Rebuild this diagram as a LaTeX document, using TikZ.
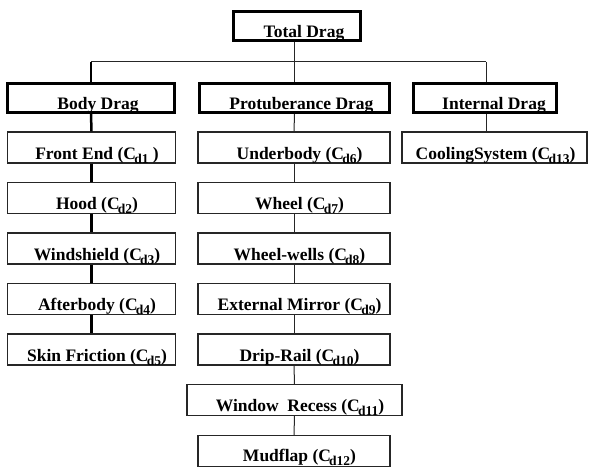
\documentclass[tikz,border=0pt]{standalone}
\usepackage{fontspec}
\setmainfont{Liberation Serif}
\newcommand\Cdsub[1]{C\kern-1.8pt\raisebox{-4pt}{\fontsize{13.5}{13}\selectfont #1}}
\begin{document}
\begin{tikzpicture}[x=1pt,y=-1pt,
  font=\fontsize{17.5}{20}\selectfont\bfseries,
  heavybox/.style={draw, line width=3pt, minimum height=29pt, inner sep=0pt},
  lightbox/.style={draw=black!85, line width=1.1pt, minimum height=31pt, inner sep=0pt},
  heavylink/.style={line width=2.5pt},
  lightlink/.style={draw=black!85, line width=1pt},
  toptext/.style={anchor=base, xshift=#1, yshift=4.8pt},
  boxtext/.style={anchor=base, xshift=#1, yshift=-7.5pt}]
\useasboundingbox (0,0) rectangle (590,468);

% top level
\node[heavybox, minimum width=127pt, label={[toptext=7pt]south:Total Drag}] (total) at (297,26) {};

% second level
\node[heavybox, minimum width=167pt, label={[toptext=7pt]south:Body Drag}] (body) at (91,98) {};
\node[heavybox, minimum width=190pt, label={[toptext=7pt]south:Protuberance Drag}] (prot) at (294.5,98) {};
\node[heavybox, minimum width=143pt, label={[toptext=9pt]south:Internal Drag}] (intd) at (485,98) {};

% column 1
\node[lightbox, minimum width=168pt, label={[boxtext=5.5pt]center:Front End (\Cdsub{d1} )}] (b1) at (91.5,147.5) {};
\node[lightbox, minimum width=168pt, label={[boxtext=5.5pt]center:Hood (\Cdsub{d2})}] (b2) at (91.5,198) {};
\node[lightbox, minimum width=168pt, label={[boxtext=5.5pt]center:Windshield (\Cdsub{d3})}] (b3) at (91.5,248.5) {};
\node[lightbox, minimum width=168pt, label={[boxtext=5.5pt]center:Afterbody (\Cdsub{d4})}] (b4) at (91.5,299) {};
\node[lightbox, minimum width=168pt, label={[boxtext=5.5pt]center:Skin Friction (\Cdsub{d5})}] (b5) at (91.5,349.5) {};

% column 2
\node[lightbox, minimum width=192pt, label={[boxtext=5.5pt]center:Underbody (\Cdsub{d6})}] (p1) at (294,147.5) {};
\node[lightbox, minimum width=192pt, label={[boxtext=5.5pt]center:Wheel (\Cdsub{d7})}] (p2) at (294,198) {};
\node[lightbox, minimum width=192pt, label={[boxtext=5.5pt]center:Wheel-wells (\Cdsub{d8})}] (p3) at (294,248.5) {};
\node[lightbox, minimum width=192pt, label={[boxtext=5.5pt]center:External Mirror (\Cdsub{d9})}] (p4) at (294,299) {};
\node[lightbox, minimum width=192pt, label={[boxtext=5.5pt]center:Drip-Rail (\Cdsub{d10})}] (p5) at (294,349.5) {};
\node[lightbox, minimum width=215pt, label={[boxtext=5.5pt]center:Window\ \ Recess (\Cdsub{d11})}] (p6) at (294.5,400) {};
\node[lightbox, minimum width=192pt, label={[boxtext=5.5pt, yshift=1pt]center:Mudflap (\Cdsub{d12})}] (p7) at (294,451) {};

% column 3
\node[lightbox, minimum width=185pt, label={[boxtext=1pt]center:CoolingSystem (\Cdsub{d13})}] (c1) at (494.5,147.5) {};

% connectors
\coordinate (hl) at (91,62);
\coordinate (hr) at (486,62);
\draw[lightlink] (total.south -| prot.north) -- (prot.north);
\draw[lightlink] (hl) -- (hr);
\draw[heavylink] (hl) -- (body.north);
\draw[lightlink] (hr) -- (hr |- intd.north);

\draw[heavylink] (body.south) -- (b1.north);
\draw[heavylink] (b1) -- (b2);
\draw[heavylink] (b2) -- (b3);
\draw[heavylink] (b3) -- (b4);
\draw[heavylink] (b4) -- (b5);

\draw[lightlink] (prot.south) -- (p1.north);
\draw[lightlink] (p1) -- (p2);
\draw[lightlink] (p2) -- (p3);
\draw[lightlink] (p3) -- (p4);
\draw[lightlink] (p4) -- (p5);
\draw[lightlink] (p5) -- (p6);
\draw[lightlink] (p6) -- (p7);

\draw[lightlink] (hr |- intd.south) -- (hr |- c1.north);
\end{tikzpicture}
\end{document}
